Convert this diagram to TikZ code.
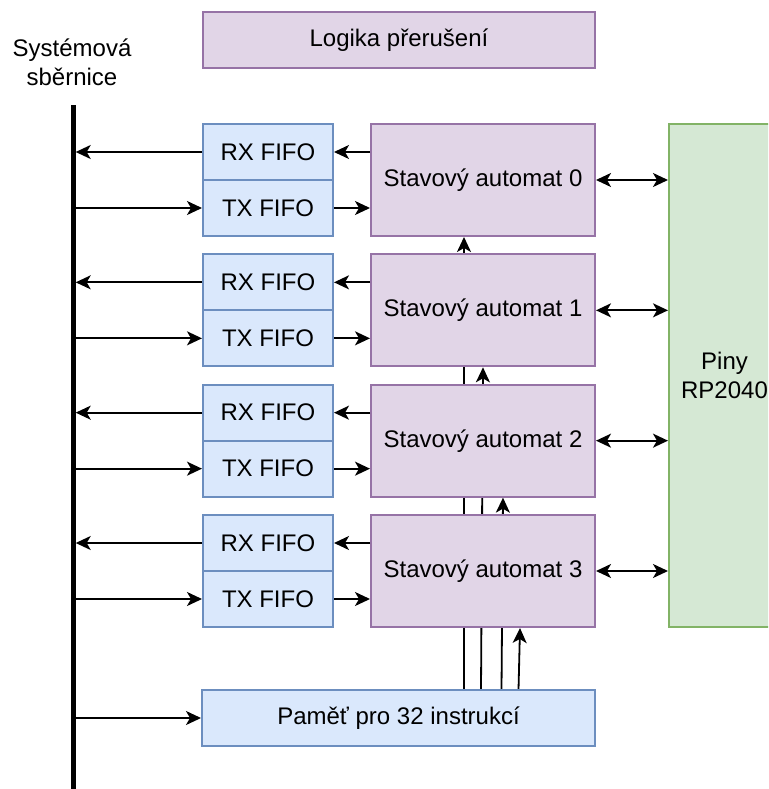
\documentclass[tikz,border=0pt]{standalone}
\usepackage{fontspec}
\setmainfont{Liberation Sans}
\usetikzlibrary{arrows.meta}

\definecolor{purpleFill}{HTML}{E1D5E7}
\definecolor{purpleLine}{HTML}{9673A6}
\definecolor{blueFill}{HTML}{DAE8FC}
\definecolor{blueLine}{HTML}{6C8EBF}
\definecolor{greenFill}{HTML}{D5E8D4}
\definecolor{greenLine}{HTML}{82B366}

\pgfdeclarelayer{background}
\pgfsetlayers{background,main}

\tikzset{
  box/.style={draw, line width=2pt, inner sep=0pt, align=center},
  fifo/.style={box, draw=blueLine, fill=blueFill, minimum width=130pt, minimum height=56pt},
  machine/.style={box, draw=purpleLine, fill=purpleFill, minimum width=224pt, minimum height=112pt},
  tip/.tip={Stealth[length=15pt,width=14pt,inset=4pt]},
  flow/.style={line width=1.8pt, -tip},
  both/.style={line width=1.8pt, tip-tip},
}

\begin{document}
\begin{tikzpicture}[x=1pt, y=-1pt, font=\fontsize{24}{29}\selectfont]
\useasboundingbox (0,0) rectangle (768,789);

% system bus
\node[fill=black, inner sep=0pt, minimum width=5pt, minimum height=684pt] (bus) at (73,447) {};
\node[align=center] (busLabel) at (72,62) {Systémová\\sběrnice};

% interrupt logic
\node[box, draw=purpleLine, fill=purpleFill, minimum width=392pt, minimum height=56pt] (irq) at (399,40) {Logika přerušení};

% pins (right edge runs past the page)
\begin{scope}
\clip (0,0) rectangle (768,789);
\node[box, draw=greenLine, fill=greenFill, minimum width=111pt, minimum height=503pt] (pins) at (724.5,375.5) {};
\node[align=center] (pinsLabel) at (724.5,375.5) {Piny\\RP2040};
\end{scope}

% state machines with their FIFOs
\foreach \i/\top in {0/124, 1/254.33, 2/384.67, 3/515} {
  \node[machine] (sa\i) at (483,\top+56) {Stavový automat \i};
  \node[fifo] (rx\i) at (268,\top+28) {RX FIFO};
  \node[fifo] (tx\i) at (268,\top+84) {TX FIFO};
  \draw[flow] (rx\i.west) -- (rx\i.west -| bus.east);
  \draw[flow] (tx\i.west -| bus.east) -- (tx\i.west);
  \draw[flow] (sa\i.west |- rx\i.east) -- (rx\i.east);
  \draw[flow] (tx\i.east) -- (sa\i.west |- tx\i.east);
  \draw[both] (sa\i.east) -- (sa\i.east -| pins.west);
}

% instruction memory
\node[box, draw=blueLine, fill=blueFill, minimum width=393pt, minimum height=56pt] (mem) at (398.5,718) {Paměť pro 32 instrukcí};
\draw[flow] (mem.west -| bus.east) -- (mem.west);

% instruction lines from memory up to each state machine
\coordinate (m0) at (464,690);
\coordinate (m1) at (481,690);
\coordinate (m2) at (501.5,690);
\coordinate (m3) at (518.5,690);
\begin{pgfonlayer}{background}
  \draw[flow] (m0) -- (m0 |- sa0.south);
  \draw[flow] (m1) -- ([xshift=2pt]m1 |- sa1.south);
  \draw[flow] (m2) -- ([xshift=1.5pt]m2 |- sa2.south);
  \draw[flow] (m3) -- ([xshift=1.5pt]m3 |- sa3.south);
\end{pgfonlayer}
\end{tikzpicture}
\end{document}
